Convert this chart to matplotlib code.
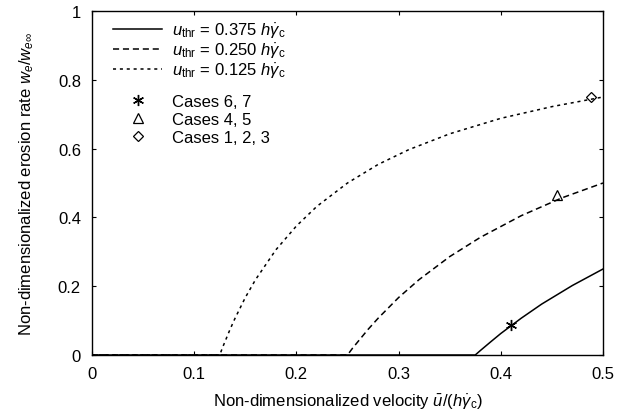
import matplotlib
matplotlib.use("Agg")
import matplotlib.pyplot as plt

plt.rcParams['font.family'] = ['Liberation Sans', 'DejaVu Sans']
plt.rcParams['mathtext.fontset'] = 'custom'
plt.rcParams['mathtext.rm'] = 'Liberation Sans'
plt.rcParams['mathtext.it'] = 'Liberation Sans:italic'
plt.rcParams['mathtext.bf'] = 'Liberation Sans:bold'

# Curves
u_375 = [0.0, 0.375, 0.38, 0.39, 0.40, 0.42, 0.44, 0.47, 0.50]
w_375 = [0.0, 0.0, 0.013, 0.038, 0.0625, 0.107, 0.148, 0.202, 0.25]

u_250 = [0.0, 0.25, 0.255, 0.26, 0.27, 0.28, 0.30, 0.32, 0.35, 0.38, 0.42, 0.46, 0.50]
w_250 = [0.0, 0.0, 0.020, 0.038, 0.074, 0.107, 0.167, 0.219, 0.286, 0.342, 0.405, 0.457, 0.5]

u_125 = [0.0, 0.125, 0.1275, 0.13, 0.135, 0.14, 0.15, 0.16, 0.18, 0.20, 0.22, 0.25,
         0.28, 0.31, 0.35, 0.40, 0.45, 0.50]
w_125 = [0.0, 0.0, 0.020, 0.038, 0.074, 0.107, 0.167, 0.219, 0.306, 0.375, 0.432, 0.5,
         0.554, 0.597, 0.643, 0.688, 0.722, 0.75]

# Case points
case67_u, case67_w = [0.41], [0.088]
case45_u, case45_w = [0.455], [0.465]
case123_u, case123_w = [0.488], [0.75]

line_labels = [r"$u_\mathrm{thr}$ = 0.375 $h\dot{\gamma}_\mathrm{c}$",
               r"$u_\mathrm{thr}$ = 0.250 $h\dot{\gamma}_\mathrm{c}$",
               r"$u_\mathrm{thr}$ = 0.125 $h\dot{\gamma}_\mathrm{c}$"]
case_labels = ["Cases 6, 7", "Cases 4, 5", "Cases 1, 2, 3"]

FS = 12
fig = plt.figure(figsize=(6.17, 4.14), dpi=100)
ax = fig.add_axes([92/617, 1-356/414, 511/617, 344/414])

lw = 1.1
l1, = ax.plot(u_375, w_375, color='black', lw=lw, linestyle='-')
l2, = ax.plot(u_250, w_250, color='black', lw=lw, linestyle=(0, (4, 2.5)))
l3, = ax.plot(u_125, w_125, color='black', lw=lw, linestyle=(0, (2, 2.5)))
p1, = ax.plot(case67_u, case67_w, linestyle='none', marker=(6, 2, 0), color='black',
              markersize=8, markeredgewidth=1.0)
p2, = ax.plot(case45_u, case45_w, linestyle='none', marker='^', markerfacecolor='none',
              markeredgecolor='black', markersize=7, markeredgewidth=0.9)
p3, = ax.plot(case123_u, case123_w, linestyle='none', marker='D', markerfacecolor='none',
              markeredgecolor='black', markersize=5.5, markeredgewidth=0.9)

leg1 = ax.legend([l1, l2, l3], line_labels,
                 loc='upper left', bbox_to_anchor=(0.041, 0.971), frameon=False,
                 fontsize=FS, handlelength=2.95, handletextpad=0.6, labelspacing=0.05,
                 borderpad=0, borderaxespad=0)
ax.add_artist(leg1)
ax.legend([p1, p2, p3], case_labels,
          loc='upper left', bbox_to_anchor=(0.041, 0.760), frameon=False,
          fontsize=FS, handlelength=2.95, handletextpad=0.6, labelspacing=0.2,
          borderpad=0, borderaxespad=0, numpoints=1)

ax.set_xlim(0, 0.5)
ax.set_ylim(0, 1)
ax.set_xticks([0, 0.1, 0.2, 0.3, 0.4, 0.5])
ax.set_xticklabels(['0', '0.1', '0.2', '0.3', '0.4', '0.5'])
ax.set_yticks([0, 0.2, 0.4, 0.6, 0.8, 1.0])
ax.set_yticklabels(['0', '0.2', '0.4', '0.6', '0.8', '1'])
ax.tick_params(direction='in', top=True, right=True, length=3, width=0.8,
               labelsize=FS, pad=8)
for s in ax.spines.values():
    s.set_linewidth(1.0)

ax.set_xlabel(r"Non-dimensionalized velocity $\bar{u}/(h\dot{\gamma}_\mathrm{c})$",
              fontsize=FS, labelpad=8)
ax.set_ylabel(r"Non-dimensionalized erosion rate $w_e/w_{e\infty}$",
              fontsize=FS, labelpad=16)

fig.savefig("out.png", dpi=100)
